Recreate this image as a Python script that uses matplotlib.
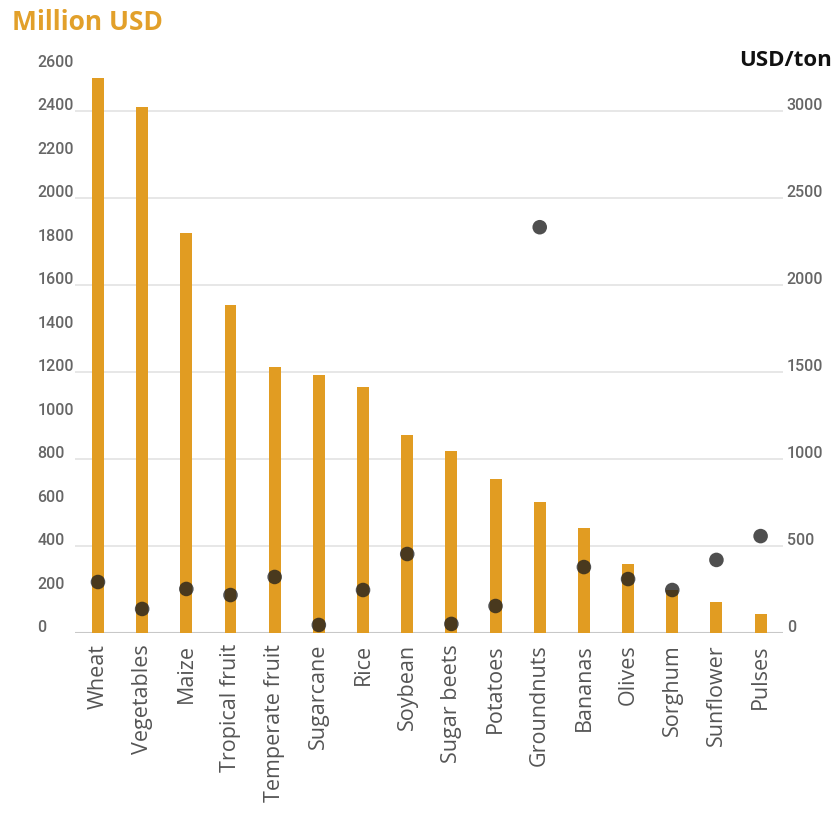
import numpy as np
import matplotlib.pyplot as plt
from matplotlib.transforms import ScaledTranslation

crops = ["Wheat", "Vegetables", "Maize", "Tropical fruit", "Temperate fruit",
         "Sugarcane", "Rice", "Soybean", "Sugar beets", "Potatoes",
         "Groundnuts", "Bananas", "Olives", "Sorghum", "Sunflower", "Pulses"]
value_musd = [2555, 2418, 1840, 1508, 1223, 1186, 1131, 910, 837, 708,
              602, 483, 317, 198, 143, 87]
price_usd_ton = [293, 138, 253, 218, 322, 46, 247, 454, 52, 155,
                 2333, 379, 310, 247, 420, 557]
left_ticks = list(range(0, 2601, 200))
right_ticks = list(range(0, 3001, 500))

orange = '#e19c22'
tick_grey = '#666666'
left_max, right_max = 2600, 3250

fig = plt.figure(figsize=(8.38, 8.16), dpi=100)
ax1 = fig.add_axes([0.0895, 0.2243, 0.8445, 0.6927])
ax2 = ax1.twinx()

x = np.arange(len(crops))
# gridlines drawn on the bar axis, at the right-axis tick levels
for r in right_ticks[1:]:
    ax1.axhline(r * left_max / right_max, color='#e3e3e3', linewidth=1.2, zorder=0)
ax1.axhline(0, color='#c8c8c8', linewidth=1.5, zorder=1)

ax1.bar(x, value_musd, width=0.27, color=orange, zorder=2)
ax2.scatter(x, price_usd_ton, s=110, color='#1e1e1e', alpha=0.78,
            edgecolors='none', zorder=3)

ax1.set_xlim(-0.52, 15.5)
ax1.set_ylim(0, left_max)
ax2.set_ylim(0, right_max)
ax1.set_yticks(left_ticks)
ax2.set_yticks(right_ticks)

for ax in (ax1, ax2):
    for s in ax.spines.values():
        s.set_visible(False)
    ax.tick_params(axis='y', length=0, labelsize=11.5, labelcolor=tick_grey)

up = ScaledTranslation(0, 5 / 72, fig.dpi_scale_trans)
ax1.tick_params(axis='y', pad=27)
for lab in ax1.get_yticklabels():
    lab.set_horizontalalignment('left')
    lab.set_family(['Roboto', 'DejaVu Sans'])
    lab.set_fontweight('medium')
    lab.set_transform(lab.get_transform() + up)
ax2.tick_params(axis='y', pad=3)
for lab in ax2.get_yticklabels():
    lab.set_family(['Roboto', 'DejaVu Sans'])
    lab.set_fontweight('medium')
    lab.set_transform(lab.get_transform() + up)

ax1.set_xticks(x)
ax1.set_xticklabels(crops, rotation=90, fontsize=15.5, color='#555555',
                    family=['Open Sans', 'DejaVu Sans'])
ax1.tick_params(axis='x', length=0, pad=8)

fig.text(0.014, 0.972, "Million USD", fontsize=19, fontweight='bold',
         color='#e2a02a', va='center', ha='left', family=['Open Sans', 'DejaVu Sans'])
fig.text(0.993, 0.926, "USD/ton", fontsize=16, fontweight='bold',
         color='#111111', va='center', ha='right', family=['Open Sans', 'DejaVu Sans'])

fig.savefig('out.png', dpi=100)
